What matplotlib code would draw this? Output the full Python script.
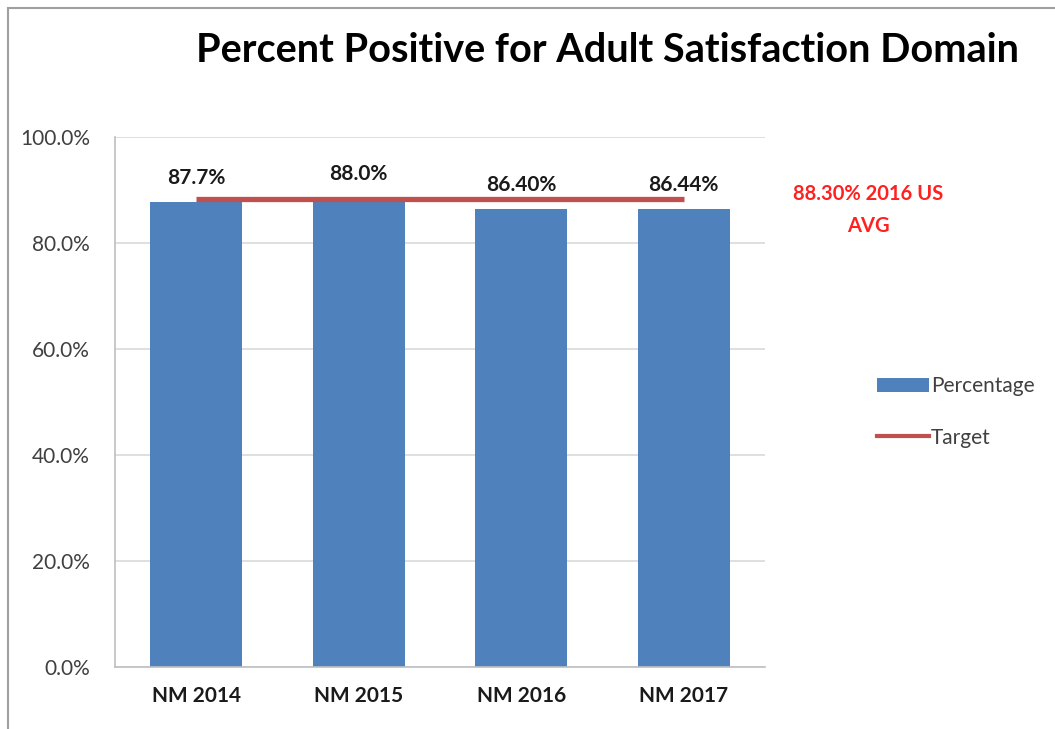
import matplotlib
matplotlib.use("Agg")
import matplotlib.pyplot as plt
from matplotlib.patches import Rectangle
from matplotlib.lines import Line2D
from matplotlib.patches import Patch

categories = ["NM 2014", "NM 2015", "NM 2016", "NM 2017"]
percentages = [87.7, 88.0, 86.40, 86.44]
value_labels = ["87.7%", "88.0%", "86.40%", "86.44%"]
target = [88.3, 88.3, 88.3, 88.3]
yticks = [0, 20, 40, 60, 80, 100]
ytick_labels = ["0.0%", "20.0%", "40.0%", "60.0%", "80.0%", "100.0%"]

plt.rcParams['font.family'] = ['Lato', 'DejaVu Sans']

fig = plt.figure(figsize=(10.55, 7.29), dpi=100)
ax = fig.add_axes([115/1055, 1-667/729, 650/1055, 530/729])

x = list(range(len(categories)))
ax.bar(x, percentages, width=0.565, color="#4F81BD", zorder=2)
ax.plot(x, target, color="#C0504D", linewidth=3.8, zorder=3, solid_capstyle='butt')

offsets = [10, 12, 10, 10]
for xi, v, lab, off in zip(x, percentages, value_labels, offsets):
    ax.annotate(lab, (xi, v), xytext=(0, off), textcoords="offset points",
                ha="center", va="bottom", fontsize=15, fontweight="bold", color="#1a1a1a")

ax.set_xlim(-0.5, 3.5)
ax.set_ylim(0, 100)
ax.set_yticks(yticks)
ax.set_yticklabels(ytick_labels, fontsize=15, color="#404040")
ax.set_xticks(x)
ax.set_xticklabels(categories, fontsize=15, fontweight="bold", color="#1a1a1a")
ax.tick_params(axis="y", length=0, pad=18)
ax.tick_params(axis="x", length=0, pad=14)
ax.yaxis.grid(True, color="#D9D9D9", linewidth=1.2, zorder=0)
ax.set_axisbelow(True)
for s in ["top", "right"]:
    ax.spines[s].set_visible(False)
ax.spines["left"].set_color("#BFBFBF")
ax.spines["bottom"].set_color("#BFBFBF")
ax.spines["left"].set_linewidth(1.2)
ax.spines["bottom"].set_linewidth(1.2)

fig.text(608/1055, 1-50/729, "Percent Positive for Adult Satisfaction Domain",
         ha="center", va="center", fontsize=28.5, fontweight="bold", color="#000000")

fig.text(868/1055, 1-210/729, "88.30% 2016 US\nAVG", ha="center", va="center",
         fontsize=14.5, fontweight="bold", color="#FF2020", linespacing=1.7)

handles = [Patch(facecolor="#4F81BD", edgecolor="none"),
           Line2D([0], [0], color="#C0504D", linewidth=3)]
leg = fig.legend(handles, ["Percentage", "Target"], loc="center left",
                 bbox_to_anchor=(858/1055, 1-412/729), frameon=False,
                 fontsize=15, handlelength=2.5, handletextpad=0.1, labelspacing=1.5)
for t in leg.get_texts():
    t.set_color("#404040")

fig.patches.append(Rectangle((8/1055, -0.1), 1.2, 1 - 8/729 + 0.1, transform=fig.transFigure,
                             fill=False, edgecolor="#A0A0A0", linewidth=1.5))

fig.savefig("out.png", dpi=100)
